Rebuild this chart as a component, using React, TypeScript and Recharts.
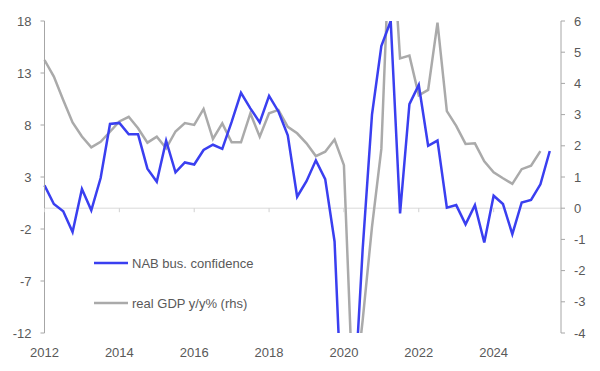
import {
    LineChart,
    Line,
    XAxis,
    YAxis,
    ReferenceLine,
    Legend
} from 'recharts';

// quarterly, first point = 2012 Q1
const START_YEAR = 2012;

const nabConfidence = [
    2.2, 0.4, -0.3, -2.3, 1.85, -0.2, 2.9, 8.1, 8.2, 7.1,
    7.1, 3.8, 2.55, 6.5, 3.45, 4.4, 4.2, 5.6, 6.1, 5.7,
    8.3, 11.1, 9.6, 8.25, 10.8, 9.3, 7.0, 1.1, 2.6, 4.6,
    2.8, -3.2, -24, -20, -4, 9.0, 15.6, 18.0, -0.5, 10.0,
    11.85, 6.0, 6.5, 0.05, 0.3, -1.55, 0.3, -3.3, 1.2, 0.4,
    -2.5, 0.55, 0.8, 2.3, 5.5
];

const gdpYoY = [
    4.75, 4.22, 3.47, 2.75, 2.3, 1.95, 2.13, 2.45, 2.78, 2.93,
    2.56, 2.1, 2.29, 1.92, 2.46, 2.73, 2.67, 3.18, 2.22, 2.72,
    2.11, 2.11, 3.04, 2.29, 3.04, 3.15, 2.61, 2.4, 2.08, 1.67,
    1.81, 2.2, 1.38, -6.3, -3.6, -0.6, 1.9, 9.5, 4.8, 4.89,
    3.62, 3.79, 5.95, 3.11, 2.64, 2.06, 2.08, 1.5, 1.15, 0.96,
    0.78, 1.25, 1.36, 1.83
];

const yearTicks = [2012, 2014, 2016, 2018, 2020, 2022, 2024];
const leftTicks = [-12, -7, -2, 3, 8, 13, 18];
const rightTicks = [-4, -3, -2, -1, 0, 1, 2, 3, 4, 5, 6];

const data = nabConfidence.map((v, i) => ({
    t: START_YEAR + i / 4,
    nab: v,
    gdp: i < gdpYoY.length ? gdpYoY[i] : null
}));

const FONT = '"Liberation Sans", Arial, sans-serif';
const TEXT = '#595959';
const AXIS = '#a6a6a6';
const BLUE = '#3a3ff0';
const GREY = '#aaaaaa';

const TOP = 21;
const PLOT_H = 312;
// x axis sits on the zero line of the left scale
const ZERO_Y = TOP + (PLOT_H * 18) / 30;

const YearTick = (props: any) => {
    const { x, y, payload } = props;
    return (
        <g>
            <line x1={x} x2={x} y1={ZERO_Y} y2={ZERO_Y + 4} stroke="#d0d0d0" />
            <text x={x} y={y + 24} textAnchor="middle" fill={TEXT} fontSize={13} fontFamily={FONT}>
                {payload.value}
            </text>
        </g>
    );
};

const renderLegend = () => (
    <div style={{ fontFamily: FONT, fontSize: 13, color: TEXT }}>
        {[
            { name: 'NAB bus. confidence', color: BLUE },
            { name: 'real GDP y/y% (rhs)', color: GREY }
        ].map((item, i) => (
            <div key={item.name} style={{ display: 'flex', alignItems: 'center', height: 20, marginTop: i ? 20 : 0 }}>
                <svg width={37} height={6} style={{ marginRight: 1 }}>
                    <line x1={0} x2={34} y1={3} y2={3} stroke={item.color} strokeWidth={2.5} />
                </svg>
                <span>{item.name}</span>
            </div>
        ))}
    </div>
);

export default function App() {
    return (
        <div style={{ position: 'absolute', left: 0, top: 0 }}>
            <LineChart
                width={600}
                height={371}
                data={data}
                margin={{ top: TOP, right: 0, left: 0, bottom: 0 }}
            >
                <XAxis
                    dataKey="t"
                    type="number"
                    domain={[2012, 2025.8]}
                    ticks={yearTicks}
                    height={38}
                    axisLine={false}
                    tickLine={false}
                    tickSize={0}
                    tickMargin={0}
                    tick={<YearTick />}
                />
                <YAxis
                    yAxisId="left"
                    width={44.5}
                    domain={[-12, 18]}
                    ticks={leftTicks}
                    allowDataOverflow
                    axisLine={{ stroke: AXIS }}
                    tickLine={{ stroke: AXIS }}
                    tickSize={4}
                    tickMargin={9}
                    tick={{ fill: TEXT, fontSize: 13, fontFamily: FONT }}
                />
                <YAxis
                    yAxisId="right"
                    orientation="right"
                    width={39}
                    domain={[-4, 6]}
                    ticks={rightTicks}
                    allowDataOverflow
                    axisLine={{ stroke: AXIS }}
                    tickLine={{ stroke: AXIS }}
                    tickSize={4}
                    tickMargin={9}
                    tick={{ fill: TEXT, fontSize: 13, fontFamily: FONT }}
                />
                <ReferenceLine yAxisId="left" y={0} stroke="#d9d9d9" />
                <Legend
                    layout="horizontal"
                    verticalAlign="middle"
                    align="center"
                    content={renderLegend}
                    wrapperStyle={{ left: 94, top: 253, width: 220 }}
                />
                <Line
                    yAxisId="right"
                    dataKey="gdp"
                    name="real GDP y/y% (rhs)"
                    stroke={GREY}
                    strokeWidth={2.5}
                    dot={false}
                    type="linear"
                    isAnimationActive={false}
                />
                <Line
                    yAxisId="left"
                    dataKey="nab"
                    name="NAB bus. confidence"
                    stroke={BLUE}
                    strokeWidth={2.5}
                    dot={false}
                    type="linear"
                    isAnimationActive={false}
                />
            </LineChart>
        </div>
    );
}
